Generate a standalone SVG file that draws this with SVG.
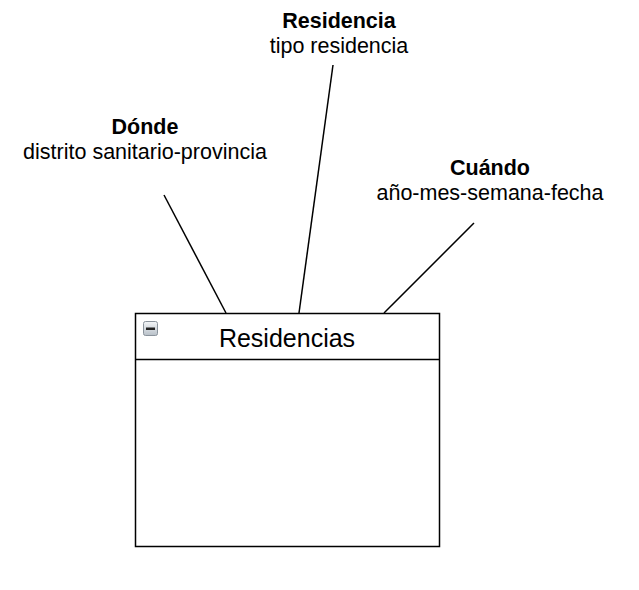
<svg xmlns="http://www.w3.org/2000/svg" width="639" height="590" viewBox="0 0 639 590">
<style>
text{font-family:"Liberation Sans",Arial,sans-serif;fill:#000}
.t{font-size:21.5px;text-anchor:middle;font-weight:bold}
.s{font-size:21.5px;text-anchor:middle}
.c{stroke:#000;stroke-width:1.5;fill:none}
</style>
<defs>
<linearGradient id="ig" x1="0" y1="0" x2="0" y2="1"><stop offset="0" stop-color="#f4f6f8"/><stop offset="1" stop-color="#b8c0c8"/></linearGradient>
</defs>
<rect width="639" height="590" fill="#fff"/>
<g id="connectors">
<line class="c" x1="164" y1="195" x2="226" y2="313"/>
<line class="c" x1="333" y1="65" x2="299" y2="313"/>
<line class="c" x1="474" y1="223" x2="384" y2="313"/>
</g>
<g id="donde">
<text class="t" x="145" y="134">Dónde</text>
<text class="s" x="145" y="159">distrito sanitario-provincia</text>
</g>
<g id="residencia">
<text class="t" x="339" y="28">Residencia</text>
<text class="s" x="339" y="53">tipo residencia</text>
</g>
<g id="cuando">
<text class="t" x="490" y="175">Cuándo</text>
<text class="s" x="490" y="200">año-mes-semana-fecha</text>
</g>
<g id="residencias">
<rect x="135.5" y="313.5" width="304" height="233" fill="#fff" stroke="#000" stroke-width="1.5"/>
<line x1="135.5" y1="359.5" x2="439.5" y2="359.5" stroke="#000" stroke-width="1.5"/>
<rect x="143.5" y="321.5" width="14" height="14" rx="2" fill="url(#ig)" stroke="#8a939c" stroke-width="1"/>
<rect x="146" y="327.5" width="9" height="2.5" fill="#222"/>
<text x="287" y="347" style="font-size:25px;text-anchor:middle">Residencias</text>
</g>
</svg>
